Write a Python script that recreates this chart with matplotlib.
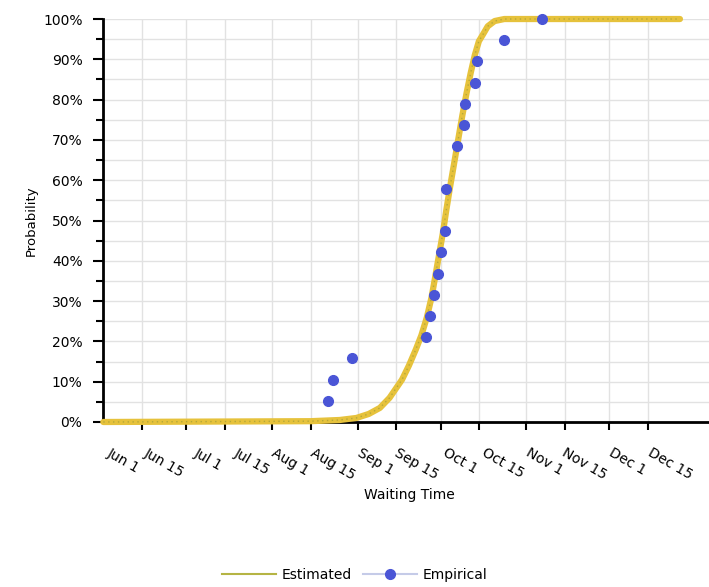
import pandas as pd
import matplotlib
matplotlib.use("Agg")
import matplotlib.pyplot as plt
from matplotlib.lines import Line2D
from matplotlib.ticker import MultipleLocator, PercentFormatter

# waiting time is read as days after Jun 1
start_date = "2021-06-01"

# estimated CDF
est_days = [
    -14, 61, 71.5, 77.5, 82, 86, 89.5, 92, 94, 96.5,
    99, 101, 103, 104.7, 106, 107.4, 108.8, 110, 111.3, 112.8,
    114.3, 115.8, 117.3, 118.8, 120.3, 121.8, 123.3, 125, 127.5, 131,
    194.5,
]
est_prob = [
    0.0, 0.002, 0.005, 0.01, 0.02, 0.035, 0.06, 0.085, 0.105, 0.14,
    0.18, 0.215, 0.26, 0.31, 0.36, 0.415, 0.47, 0.525, 0.58, 0.64,
    0.70, 0.76, 0.815, 0.865, 0.91, 0.945, 0.962, 0.982, 0.995, 1.0,
    1.0,
]

# empirical points
emp_days = [
    67.25, 69, 76, 102.5, 104, 105.5, 107, 108, 109.5, 109.75,
    114, 116.25, 116.75, 120.5, 121, 130.75, 144.75,
]
emp_prob = [
    0.053, 0.105, 0.158, 0.211, 0.263, 0.316, 0.368, 0.421, 0.474, 0.579,
    0.684, 0.737, 0.789, 0.842, 0.895, 0.947, 1.0,
]

# the "15" ticks sit at mid-month in the source chart
tick_days = [0, 16, 30, 47, 61, 78, 92, 108, 122, 139, 153, 169, 183, 200]
tick_labels = [
    "Jun 1", "Jun 15", "Jul 1", "Jul 15", "Aug 1", "Aug 15",
    "Sep 1", "Sep 15", "Oct 1", "Oct 15", "Nov 1", "Nov 15",
    "Dec 1", "Dec 15",
]
x_range = [-14, 205]


def to_dates(days):
    return pd.Timestamp(start_date) + pd.to_timedelta(days, unit="D")


est_x = to_dates(est_days)
emp_x = to_dates(emp_days)
ticks_x = to_dates(tick_days)
lims_x = to_dates(x_range)

gold = "#e6c23c"
blue = "#4a55d6"

fig = plt.figure(figsize=(7.09, 5.87), dpi=100)
ax = fig.add_axes([0.1457, 0.2811, 0.8543, 0.6865])

ax.plot(est_x, est_prob, color=gold, lw=4.5, solid_capstyle="round", zorder=3, clip_on=False)
ax.plot(est_x, est_prob, color="#b3a83a", lw=1, ls=(0, (1, 2.5)), zorder=4, clip_on=False)
ax.plot(emp_x, emp_prob, "o", color=blue, ms=7, mec=blue, zorder=5, clip_on=False)

ax.set_xlim(lims_x[0], lims_x[1])
ax.set_ylim(0, 1)

ax.set_xticks(ticks_x)
ax.set_xticklabels(tick_labels, rotation=-30, ha="right", fontsize=10)
ax.yaxis.set_major_locator(MultipleLocator(0.1))
ax.yaxis.set_minor_locator(MultipleLocator(0.05))
ax.yaxis.set_major_formatter(PercentFormatter(1.0, decimals=0))
ax.tick_params(axis="y", which="major", length=7, width=1.5, pad=8, labelsize=10)
ax.tick_params(axis="y", which="minor", length=5, width=1.5)
ax.tick_params(axis="x", length=6, width=1.5, pad=11)

ax.grid(True, which="both", axis="y", color="#e2e2e2", lw=1)
ax.grid(True, which="major", axis="x", color="#e2e2e2", lw=1)
ax.set_axisbelow(True)

# last tick has a label only
last = ax.xaxis.get_major_ticks()[-1]
last.tick1line.set_visible(False)
last.gridline.set_visible(False)

for side in ["top", "right"]:
    ax.spines[side].set_visible(False)
for side in ["left", "bottom"]:
    ax.spines[side].set_linewidth(2)

ax.set_xlabel("Waiting Time", fontsize=10)
ax.xaxis.set_label_coords(0.505, -0.165)
ax.set_ylabel("Probability", fontsize=9.5)
ax.yaxis.set_label_coords(-0.108, 0.5)

handles = [
    Line2D([], [], color="#b5b444", lw=1.5),
    Line2D([], [], color="#c5cbe8", lw=1.5, marker="o", ms=7, mfc=blue, mec=blue),
]
fig.legend(handles, ["Estimated", "Empirical"], loc="center", bbox_to_anchor=(0.5, 0.02),
           ncol=2, frameon=False, fontsize=10, handlelength=3.9, handletextpad=0.4,
           columnspacing=0.8)

fig.savefig("out.png", dpi=100)
